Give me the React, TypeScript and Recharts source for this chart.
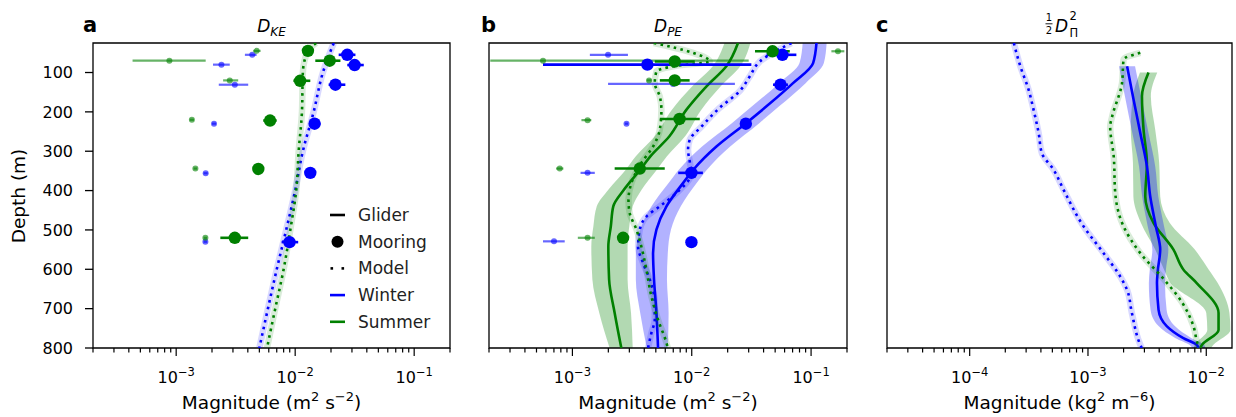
import React from 'react';
import {
  ComposedChart, Line, Area, Scatter, ErrorBar, XAxis, YAxis, ReferenceArea, Legend,
} from 'recharts';

// ---------- colours ----------
const BLUE = '#0000ff';
const GREEN = '#008000';
const FONT = 'DejaVu Sans';

// ---------- axes ----------
const depthTicks = [100, 200, 300, 400, 500, 600, 700, 800];
const depthDomain = [25, 800];
const domainAB = [2e-4, 0.2];
const domainC = [2e-5, 0.0165];
const majorAB = [1e-3, 1e-2, 1e-1];
const minorAB = [2e-4, 3e-4, 4e-4, 5e-4, 6e-4, 7e-4, 8e-4, 9e-4, 2e-3, 3e-3, 4e-3, 5e-3, 6e-3, 7e-3, 8e-3, 9e-3, 2e-2, 3e-2, 4e-2, 5e-2, 6e-2, 7e-2, 8e-2, 9e-2, 2e-1];
const majorC = [1e-4, 1e-3, 1e-2];
const minorC = [2e-5, 3e-5, 4e-5, 5e-5, 6e-5, 7e-5, 8e-5, 9e-5, 2e-4, 3e-4, 4e-4, 5e-4, 6e-4, 7e-4, 8e-4, 9e-4, 2e-3, 3e-3, 4e-3, 5e-3, 6e-3, 7e-3, 8e-3, 9e-3];

// ---------- panel a : D_KE ----------
const aModelWinterDepth = [25, 100, 200, 300, 400, 500, 600, 700, 800];
const aModelWinter = [0.0211, 0.0171, 0.0143, 0.0116, 0.0100, 0.0084, 0.0070, 0.0059, 0.0050];
const aModelSummerDepth = [25, 45, 100, 200, 300, 400, 500, 600, 700, 800];
const aModelSummer = [0.0150, 0.0128, 0.0116, 0.0114, 0.0107, 0.0102, 0.0091, 0.0080, 0.0068, 0.0058];

const aMoorWinterDepth = [55, 81, 131, 230, 355, 531];
const aMoorWinter = [0.0274, 0.0316, 0.0218, 0.01456, 0.0134, 0.00896];
const aMoorWinterLo = [0.0232, 0.0274, 0.0191, 0.0134, 0.0128, 0.00769];
const aMoorWinterHi = [0.0321, 0.0377, 0.0264, 0.0163, 0.0140, 0.0106];
const aMoorSummerDepth = [45, 70, 121, 222, 345, 520];
const aMoorSummer = [0.0128, 0.0195, 0.0110, 0.00615, 0.0049, 0.00311];
const aMoorSummerLo = [0.0121, 0.01476, 0.00966, 0.00539, 0.0047, 0.00235];
const aMoorSummerHi = [0.0136, 0.024, 0.0134, 0.00699, 0.0051, 0.00403];

const aSmallWinterDepth = [55, 80, 131, 230, 356, 530];
const aSmallWinter = [0.00436, 0.0024, 0.00311, 0.00208, 0.00177, 0.00176];
const aSmallWinterLo = [0.00378, 0.00204, 0.00228, 0.00200, 0.00170, 0.00170];
const aSmallWinterHi = [0.00474, 0.00282, 0.00403, 0.00216, 0.00184, 0.00182];
const aSmallSummerDepth = [45, 70, 120, 220, 344, 520];
const aSmallSummer = [0.00474, 0.000877, 0.00282, 0.001355, 0.00145, 0.00176];
const aSmallSummerLo = [0.00444, 0.00043, 0.00248, 0.0013, 0.0014, 0.0017];
const aSmallSummerHi = [0.00512, 0.00177, 0.00332, 0.00141, 0.0015, 0.00182];

// ---------- panel b : D_PE ----------
const bGliderWinterDepth = [25, 76, 127, 186, 228, 288, 347, 381, 440, 499, 559, 626, 711, 800];
const bGliderWinter = [0.111, 0.104, 0.0706, 0.0423, 0.0287, 0.0161, 0.0103, 0.00845, 0.00614, 0.00506, 0.00474, 0.00483, 0.00506, 0.00522];
const bGliderWinterLo = [0.085, 0.080, 0.054, 0.032, 0.0218, 0.0122, 0.0078, 0.0064, 0.0046, 0.0037, 0.0034, 0.0034, 0.0037, 0.0042];
const bGliderWinterHi = [0.135, 0.128, 0.090, 0.054, 0.0370, 0.0210, 0.0134, 0.0110, 0.0081, 0.0067, 0.0063, 0.0062, 0.0064, 0.0063];
const bGliderSummerDepth = [25, 84, 135, 195, 262, 313, 347, 398, 440, 490, 542, 626, 711, 800];
const bGliderSummer = [0.0244, 0.0195, 0.0133, 0.0090, 0.0065, 0.0045, 0.0037, 0.0027, 0.0022, 0.0021, 0.0020, 0.00203, 0.00226, 0.00257];
const bGliderSummerLo = [0.0188, 0.0150, 0.0101, 0.0068, 0.0049, 0.0034, 0.0028, 0.0020, 0.0016, 0.0015, 0.00144, 0.00147, 0.00168, 0.00205];
const bGliderSummerHi = [0.031, 0.0255, 0.0175, 0.0120, 0.0088, 0.0062, 0.0051, 0.0038, 0.0032, 0.0030, 0.0029, 0.0029, 0.0031, 0.0032];

const bModelWinterDepth = [25, 72, 110, 148, 190, 237, 271, 296, 326, 355, 406, 440, 466, 499, 542, 584, 626, 686, 728, 762, 800];
const bModelWinter = [0.0685, 0.0372, 0.0306, 0.0251, 0.0171, 0.0121, 0.00962, 0.00931, 0.00962, 0.00994, 0.00745, 0.0054, 0.00417, 0.00367, 0.00355, 0.00391, 0.00445, 0.0049, 0.0049, 0.00459, 0.0043];
const bModelSummerDepth = [25, 50, 72, 83, 97, 127, 161, 195, 245, 288, 330, 381, 424, 457, 499, 542, 601, 669, 728, 787, 800];
const bModelSummer = [0.0048, 0.01026, 0.01416, 0.00745, 0.00506, 0.0049, 0.0054, 0.00557, 0.0054, 0.00474, 0.00378, 0.00312, 0.00295, 0.00302, 0.00344, 0.00378, 0.00417, 0.00459, 0.00522, 0.00614, 0.0063];

const bMoorWinterDepth = [55, 80, 131, 230, 355, 531];
const bMoorWinter = [0.0575, 0.00425, 0.0554, 0.0284, 0.00994, 0.00994];
const bMoorWinterLo = [0.0424, 0.000567, 0.048, 0.0270, 0.0077, 0.00994];
const bMoorWinterHi = [0.0753, 0.0316, 0.064, 0.0298, 0.0124, 0.00994];
const bMoorSummerDepth = [46, 72, 120, 218, 344, 520];
const bMoorSummer = [0.0475, 0.0072, 0.0072, 0.0079, 0.00367, 0.00266];
const bMoorSummerLo = [0.0339, 0.0049, 0.0054, 0.0054, 0.00226, 0.00266];
const bMoorSummerHi = [0.0663, 0.0106, 0.0096, 0.01167, 0.00594, 0.00266];

const bSmallWinterDepth = [55, 129, 230, 355, 529];
const bSmallWinter = [0.00199, 0.00697, 0.00284, 0.00134, 0.000701];
const bSmallWinterLo = [0.0014, 0.00199, 0.00275, 0.00117, 0.000567];
const bSmallWinterHi = [0.00292, 0.023, 0.00293, 0.00154, 0.000862];
const bSmallSummerDepth = [46, 70, 120, 221, 344, 520];
const bSmallSummer = [0.168, 0.000567, 0.00439, 0.00134, 0.000783, 0.00134];
const bSmallSummerLo = [0.148, 0.000205, 0.0042, 0.00119, 0.00073, 0.00111];
const bSmallSummerHi = [0.19, 0.030, 0.0046, 0.00144, 0.00084, 0.00154];

// ---------- panel c : 1/2 D_Pi^2 ----------
const cModelWinterDepth = [25, 84, 144, 195, 254, 305, 347, 398, 491, 559, 618, 652, 711, 792, 800];
const cModelWinter = [2.36e-4, 2.68e-4, 3.15e-4, 3.47e-4, 3.83e-4, 4.08e-4, 5.12e-4, 6.22e-4, 9.18e-4, 1.355e-3, 1.87e-3, 2.14e-3, 2.35e-3, 2.77e-3, 2.85e-3];
const cModelSummerDepth = [50, 67, 127, 212, 237, 313, 406, 491, 559, 626, 686, 745, 787, 800];
const cModelSummer = [2.77e-3, 2.0e-3, 1.94e-3, 1.6e-3, 1.54e-3, 1.65e-3, 1.70e-3, 2.0e-3, 2.77e-3, 4.4e-3, 6.3e-3, 7.8e-3, 8.4e-3, 8.7e-3];

const cGliderWinterDepth = [84, 169, 254, 338, 415, 491, 550, 601, 635, 703, 745, 775, 792, 800];
const cGliderWinter = [2.14e-3, 2.43e-3, 2.77e-3, 3.15e-3, 3.36e-3, 3.75e-3, 4.08e-3, 3.9e-3, 3.83e-3, 3.95e-3, 4.65e-3, 6.4e-3, 8.3e-3, 8.6e-3];
const cGliderWinterLo = [1.83e-3, 2.08e-3, 2.37e-3, 2.7e-3, 2.87e-3, 3.2e-3, 3.5e-3, 3.33e-3, 3.27e-3, 3.38e-3, 3.97e-3, 5.5e-3, 7.2e-3, 7.6e-3];
const cGliderWinterHi = [2.5e-3, 2.85e-3, 3.25e-3, 3.7e-3, 3.93e-3, 4.4e-3, 4.78e-3, 4.56e-3, 4.48e-3, 4.62e-3, 5.45e-3, 7.5e-3, 9.6e-3, 9.8e-3];
const cGliderSummerDepth = [100, 160, 245, 330, 415, 482, 550, 601, 635, 711, 754, 792, 800];
const cGliderSummer = [3.25e-3, 2.86e-3, 2.95e-3, 3.15e-3, 3.05e-3, 3.58e-3, 5.28e-3, 6.42e-3, 8.3e-3, 1.27e-2, 1.27e-2, 9.2e-3, 8.9e-3];
const cGliderSummerLo = [2.75e-3, 2.4e-3, 2.3e-3, 2.4e-3, 2.42e-3, 2.8e-3, 3.7e-3, 4.4e-3, 5.0e-3, 1.0e-2, 1.02e-2, 8.0e-3, 7.8e-3];
const cGliderSummerHi = [3.85e-3, 3.4e-3, 3.7e-3, 4.0e-3, 4.08e-3, 4.9e-3, 8.0e-3, 1.05e-2, 1.25e-2, 1.57e-2, 1.6e-2, 1.15e-2, 1.1e-2];

// ---------- helpers ----------
type Row = { d: number; v: number; band?: number[]; err?: number[] };
const rows = (ds: number[], vs: number[], lo?: number[], hi?: number[]): Row[] =>
  ds.map((d, i) => ({
    d,
    v: vs[i],
    band: lo && hi ? [lo[i], hi[i]] : undefined,
    err: lo && hi ? [vs[i] - lo[i], hi[i] - vs[i]] : undefined,
  }));

const makeXTick = (majors: number[]) => (props: any) => {
  const { x, y, payload } = props;
  const val = payload.value;
  const isMajor = majors.some((m) => Math.abs(m - val) / m < 1e-6);
  const exp = Math.round(Math.log10(val));
  return (
    <g>
      <line x1={x} x2={x} y1={y} y2={y + (isMajor ? 8 : 4.5)} stroke="#000" strokeWidth={1.2} />
      {isMajor && (
        <text x={x} y={y + 35} textAnchor="middle" fontSize={16} fontFamily={FONT} fill="#000">
          10<tspan dy={-7} fontSize={11.5}>{'\u2212' + Math.abs(exp)}</tspan>
        </text>
      )}
    </g>
  );
};

const xLabel = (unit: 'm' | 'kg') => (props: any) => {
  const vb = props.viewBox || {};
  const cx = vb.x + vb.width / 2;
  const y = vb.y + 61;
  return (
    <text x={cx} y={y} textAnchor="middle" fontSize={18.5} fontFamily={FONT} fill="#000">
      {unit === 'm' ? 'Magnitude (m' : 'Magnitude (kg'}
      <tspan dy={-8} fontSize={13}>2</tspan>
      <tspan dy={8}>{unit === 'm' ? ' s' : ' m'}</tspan>
      <tspan dy={-8} fontSize={13}>{unit === 'm' ? '\u22122' : '\u22126'}</tspan>
      <tspan dy={8}>)</tspan>
    </text>
  );
};

const yLabel = () => (
  <text x={18} y={196} transform="rotate(-90 18 196)" textAnchor="middle" dominantBaseline="central" fontSize={18.5} fontFamily={FONT} fill="#000">
    Depth (m)
  </text>
);

const bigDot = (color: string) => (p: any) => <circle cx={p.cx} cy={p.cy} r={6.2} fill={color} />;
const smallDot = (color: string) => (p: any) => <circle cx={p.cx} cy={p.cy} r={3} fill={color} fillOpacity={0.6} />;

const LegendBox = () => {
  const items = ['Glider', 'Mooring', 'Model', 'Winter', 'Summer'];
  const x0 = 0;
  const rowH = 26.7;
  return (
    <svg width={120} height={140} style={{ overflow: 'visible' }}>
      {items.map((t, i) => {
        const cy = 12 + i * rowH;
        let sym: React.ReactNode = null;
        if (t === 'Glider') sym = <line x1={x0} x2={x0 + 15} y1={cy} y2={cy} stroke="#000" strokeWidth={2.6} />;
        if (t === 'Mooring') sym = <circle cx={x0 + 7.5} cy={cy} r={6} fill="#000" />;
        if (t === 'Model') sym = (
          <g>
            <rect x={x0 + 0.5} y={cy - 1.3} width={2.6} height={2.6} fill="#000" />
            <rect x={x0 + 11.5} y={cy - 1.3} width={2.6} height={2.6} fill="#000" />
          </g>
        );
        if (t === 'Winter') sym = <line x1={x0} x2={x0 + 15} y1={cy} y2={cy} stroke={BLUE} strokeWidth={2.6} />;
        if (t === 'Summer') sym = <line x1={x0} x2={x0 + 15} y1={cy} y2={cy} stroke={GREEN} strokeWidth={2.6} />;
        return (
          <g key={t}>
            {sym}
            <text x={x0 + 28} y={cy + 6} fontSize={17} fontFamily={FONT} fill="#222">{t}</text>
          </g>
        );
      })}
    </svg>
  );
};

type PanelProps = {
  width: number;
  margin: { top: number; right: number; bottom: number; left: number };
  yWidth: number;
  domain: number[];
  majors: number[];
  minors: number[];
  showYLabels: boolean;
  unit: 'm' | 'kg';
  children: React.ReactNode;
  legend?: boolean;
};

const Panel = ({ width, margin, yWidth, domain, majors, minors, showYLabels, unit, children, legend }: PanelProps) => (
  <ComposedChart width={width} height={417} layout="vertical" margin={margin}>
    <XAxis
      type="number"
      dataKey="v"
      scale="log"
      domain={domain}
      allowDataOverflow
      ticks={[...majors, ...minors]}
      interval={0}
      tick={makeXTick(majors)}
      tickLine={false}
      tickSize={0}
      tickMargin={0}
      axisLine={false}
      height={40}
      label={{ content: xLabel(unit) }}
    />
    <YAxis
      type="number"
      dataKey="d"
      domain={depthDomain}
      allowDataOverflow
      ticks={depthTicks}
      interval={0}
      width={yWidth}
      tickSize={8}
      tickMargin={12}
      axisLine={false}
      tickLine={{ stroke: '#000', strokeWidth: 1.3 }}
      tick={showYLabels ? { fontSize: 16, fill: '#000', fontFamily: FONT } : false}
      label={showYLabels ? { content: yLabel } : undefined}
    />
    {children}
    <ReferenceArea x1={domain[0]} x2={domain[1]} y1={depthDomain[0]} y2={depthDomain[1]} fill="none" fillOpacity={0} stroke="#000" strokeWidth={1.3} ifOverflow="visible" />
    {legend && (
      <Legend
        layout="horizontal"
        verticalAlign="middle"
        align="center"
        content={() => <LegendBox />}
        wrapperStyle={{ position: 'absolute', left: 330, top: 203, width: 120, height: 140 }}
      />
    )}
  </ComposedChart>
);

const modelLine = (key: string, data: Row[], color: string) => [
  <Line key={key + 'halo'} data={data} dataKey="v" type="monotone" stroke={color} strokeOpacity={0.15} strokeWidth={6.5} dot={false} isAnimationActive={false} />,
  <Line key={key} data={data} dataKey="v" type="monotone" stroke={color} strokeWidth={2.6} strokeDasharray="2.6 4.2" dot={false} isAnimationActive={false} />,
];

const gliderLine = (key: string, data: Row[], color: string) => [
  <Area key={key + 'band'} data={data} dataKey="band" type="monotone" stroke="none" fill={color} fillOpacity={0.3} isAnimationActive={false} />,
  <Line key={key} data={data} dataKey="v" type="monotone" stroke={color} strokeWidth={2.6} dot={false} isAnimationActive={false} />,
];

const bigDots = (key: string, data: Row[], color: string) => (
  <Scatter key={key} data={data} shape={bigDot(color)} isAnimationActive={false}>
    <ErrorBar dataKey="err" direction="x" width={0} stroke={color} strokeWidth={2.6} />
  </Scatter>
);

const smallDots = (key: string, data: Row[], color: string) => (
  <Scatter key={key} data={data} shape={smallDot(color)} isAnimationActive={false}>
    <ErrorBar dataKey="err" direction="x" width={0} stroke={color} strokeOpacity={0.6} strokeWidth={2.2} />
  </Scatter>
);

export default function App() {
  return (
    <div style={{ position: 'absolute', left: 0, top: 0, width: 1236, height: 417, background: '#fff', overflow: 'hidden' }}>
      <div style={{ position: 'absolute', left: 0, top: 0 }}>
        <Panel width={460} margin={{ top: 43, right: 10, bottom: 29, left: 33 }} yWidth={60} domain={domainAB} majors={majorAB} minors={minorAB} showYLabels unit="m" legend>
          {modelLine('amw', rows(aModelWinterDepth, aModelWinter), BLUE)}
          {modelLine('ams', rows(aModelSummerDepth, aModelSummer), GREEN)}
          {smallDots('asw', rows(aSmallWinterDepth, aSmallWinter, aSmallWinterLo, aSmallWinterHi), BLUE)}
          {smallDots('ass', rows(aSmallSummerDepth, aSmallSummer, aSmallSummerLo, aSmallSummerHi), GREEN)}
          {bigDots('amow', rows(aMoorWinterDepth, aMoorWinter, aMoorWinterLo, aMoorWinterHi), BLUE)}
          {bigDots('amos', rows(aMoorSummerDepth, aMoorSummer, aMoorSummerLo, aMoorSummerHi), GREEN)}
        </Panel>
      </div>
      <div style={{ position: 'absolute', left: 460, top: 0 }}>
        <Panel width={397} margin={{ top: 43, right: 10, bottom: 29, left: 9 }} yWidth={20} domain={domainAB} majors={majorAB} minors={minorAB} showYLabels={false} unit="m">
          {gliderLine('bgs', rows(bGliderSummerDepth, bGliderSummer, bGliderSummerLo, bGliderSummerHi), GREEN)}
          {gliderLine('bgw', rows(bGliderWinterDepth, bGliderWinter, bGliderWinterLo, bGliderWinterHi), BLUE)}
          {modelLine('bmw', rows(bModelWinterDepth, bModelWinter), BLUE)}
          {modelLine('bms', rows(bModelSummerDepth, bModelSummer), GREEN)}
          {smallDots('bsw', rows(bSmallWinterDepth, bSmallWinter, bSmallWinterLo, bSmallWinterHi), BLUE)}
          {smallDots('bss', rows(bSmallSummerDepth, bSmallSummer, bSmallSummerLo, bSmallSummerHi), GREEN)}
          {bigDots('bmow', rows(bMoorWinterDepth, bMoorWinter, bMoorWinterLo, bMoorWinterHi), BLUE)}
          {bigDots('bmos', rows(bMoorSummerDepth, bMoorSummer, bMoorSummerLo, bMoorSummerHi), GREEN)}
        </Panel>
      </div>
      <div style={{ position: 'absolute', left: 857, top: 0 }}>
        <Panel width={379} margin={{ top: 43, right: 4, bottom: 29, left: 10 }} yWidth={20} domain={domainC} majors={majorC} minors={minorC} showYLabels={false} unit="kg">
          {gliderLine('cgs', rows(cGliderSummerDepth, cGliderSummer, cGliderSummerLo, cGliderSummerHi), GREEN)}
          {gliderLine('cgw', rows(cGliderWinterDepth, cGliderWinter, cGliderWinterLo, cGliderWinterHi), BLUE)}
          {modelLine('cmw', rows(cModelWinterDepth, cModelWinter), BLUE)}
          {modelLine('cms', rows(cModelSummerDepth, cModelSummer), GREEN)}
        </Panel>
      </div>
      <svg width={1236} height={417} style={{ position: 'absolute', left: 0, top: 0, pointerEvents: 'none' }}>
        <g fontFamily={FONT} fill="#000">
          <text x={83} y={31.7} fontSize={21} fontWeight="bold">a</text>
          <text x={481} y={31.7} fontSize={21} fontWeight="bold">b</text>
          <text x={876} y={31.7} fontSize={21} fontWeight="bold">c</text>
          <text x={271.5} y={31.5} textAnchor="middle" fontSize={17}>
            <tspan fontStyle="italic">D</tspan>
            <tspan fontStyle="italic" fontSize={12} dy={4}>KE</tspan>
          </text>
          <text x={668} y={31.5} textAnchor="middle" fontSize={17}>
            <tspan fontStyle="italic">D</tspan>
            <tspan fontStyle="italic" fontSize={12} dy={4}>PE</tspan>
          </text>
          <text x={1049} y={20.5} textAnchor="middle" fontSize={10}>1</text>
          <line x1={1045.5} x2={1052.5} y1={23.8} y2={23.8} stroke="#000" strokeWidth={0.9} />
          <text x={1049} y={34} textAnchor="middle" fontSize={10}>2</text>
          <text x={1055} y={31.5} fontSize={17} fontStyle="italic">D</text>
          <text x={1069.5} y={20} fontSize={11.5}>2</text>
          <text x={1069.5} y={36.5} fontSize={11.5}>Π</text>
        </g>
      </svg>
    </div>
  );
}
